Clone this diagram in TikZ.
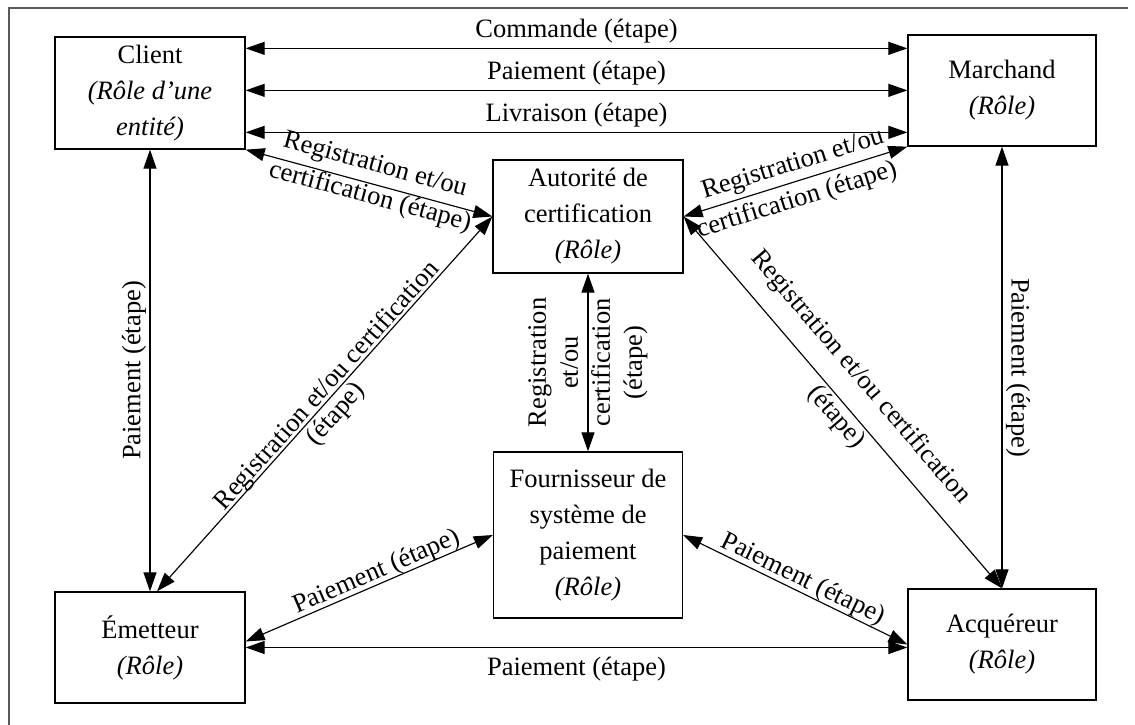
\documentclass[tikz,border=0pt]{standalone}
\usepackage{fontspec}
\setmainfont{Liberation Serif}
\usetikzlibrary{arrows.meta,calc}
\begin{document}
\begin{tikzpicture}[x=1pt,y=-1pt,
  every node/.style={font=\fontsize{26.5}{36}\selectfont},
  role/.style={draw, line width=1.3pt, align=center, inner sep=0pt},
  >={Triangle[length=19pt,width=13pt]},
  flow/.style={<->, line width=1.15pt},
  lbl/.style={inner sep=2pt},
]
\useasboundingbox (0,0) rectangle (1135,725);
% outer frame (left and top edges)
\draw[line width=1.2pt, black!65] (9,725) -- (9,8) -- (1128,8);

% roles
\node[role, minimum width=190pt, minimum height=112pt] (client) at (150,93)
  {Client\\\textit{(Rôle d’une}\\\textit{entité)}};
\node[role, minimum width=188pt, minimum height=111pt] (marchand) at (1002,90.5)
  {Marchand\\\textit{(Rôle)}};
\node[role, minimum width=190pt, minimum height=113pt] (autorite) at (588,216.5)
  {Autorité de\\certification\\\textit{(Rôle)}};
\node[role, minimum width=189pt, minimum height=166pt] (fournisseur) at (588,535)
  {Fournisseur de\\système de\\paiement\\\textit{(Rôle)}};
\node[role, minimum width=190pt, minimum height=111pt] (emetteur) at (150,647.5)
  {Émetteur\\\textit{(Rôle)}};
\node[role, minimum width=188pt, minimum height=111pt] (acquereur) at (1002,644.5)
  {Acquéreur\\\textit{(Rôle)}};

% client <-> marchand
\coordinate (cm1) at ($(client.north east)+(0,12)$);
\coordinate (cm2) at ($(client.north east)+(0,54)$);
\coordinate (cm3) at ($(client.north east)+(0,96)$);
\draw[flow] (cm1) -- (cm1 -| marchand.west) node[lbl, midway, above=3pt] {Commande (étape)};
\draw[flow] (cm2) -- (cm2 -| marchand.west) node[lbl, midway, above=3pt] {Paiement (étape)};
\draw[flow] (cm3) -- (cm3 -| marchand.west) node[lbl, midway, above=3pt] {Livraison (étape)};

% registration links to the certification authority
\draw[flow] (client.south east) -- (autorite.west)
  node[lbl, sloped, pos=0.505, above=4pt] {Registration et/ou}
  node[lbl, sloped, pos=0.518, below=-1.5pt] {certification (étape)};
\draw[flow] (autorite.east) -- (marchand.south west)
  node[lbl, sloped, pos=0.511, above=2.4pt] {Registration et/ou}
  node[lbl, sloped, pos=0.482, below=3.6pt] {certification (étape)};
\coordinate (eA) at ($(emetteur.north)+(7,0)$);
\draw[flow] (eA) -- (autorite.west)
  node[lbl, sloped, pos=0.53, above=-5pt] {Registration et/ou certification}
  node[lbl, sloped, pos=0.5, below=1pt] {(étape)};
\draw[flow] (autorite.east) -- (acquereur.north)
  node[lbl, sloped, pos=0.484, above=15pt] {Registration et/ou certification}
  node[lbl, sloped, pos=0.514, below=0.5pt] {(étape)};
\draw[flow] (autorite.south) -- (fournisseur.north);
\node[lbl, rotate=90, align=center, font=\fontsize{26.5}{32}\selectfont] (regmid)
  at ($(autorite.south)!0.5!(fournisseur.north)$)
  {Registration\\et/ou\\certification\\(étape)};

% payment links
\draw[flow] (client.south) -- (emetteur.north);
\node[lbl, rotate=90] (payleft) at ($(client.south)!0.5!(emetteur.north)+(-16,0)$) {Paiement (étape)};
\draw[flow] (marchand.south) -- (acquereur.north);
\node[lbl, rotate=-90] (payright) at ($(marchand.south)!0.5!(acquereur.north)+(16,0)$) {Paiement (étape)};
\coordinate (eF) at ($(emetteur.east)+(0,-6)$);
\draw[flow] (eF) -- (fournisseur.west)
  node[lbl, sloped, pos=0.55, above=-3pt] {Paiement (étape)};
\draw[flow] (fournisseur.east) -- (acquereur.west)
  node[lbl, sloped, pos=0.51, above=-2pt] {Paiement (étape)};
\draw[flow] (emetteur.east) -- (emetteur.east -| acquereur.west)
  node[lbl, midway, below=7pt] {Paiement (étape)};
\end{tikzpicture}
\end{document}
